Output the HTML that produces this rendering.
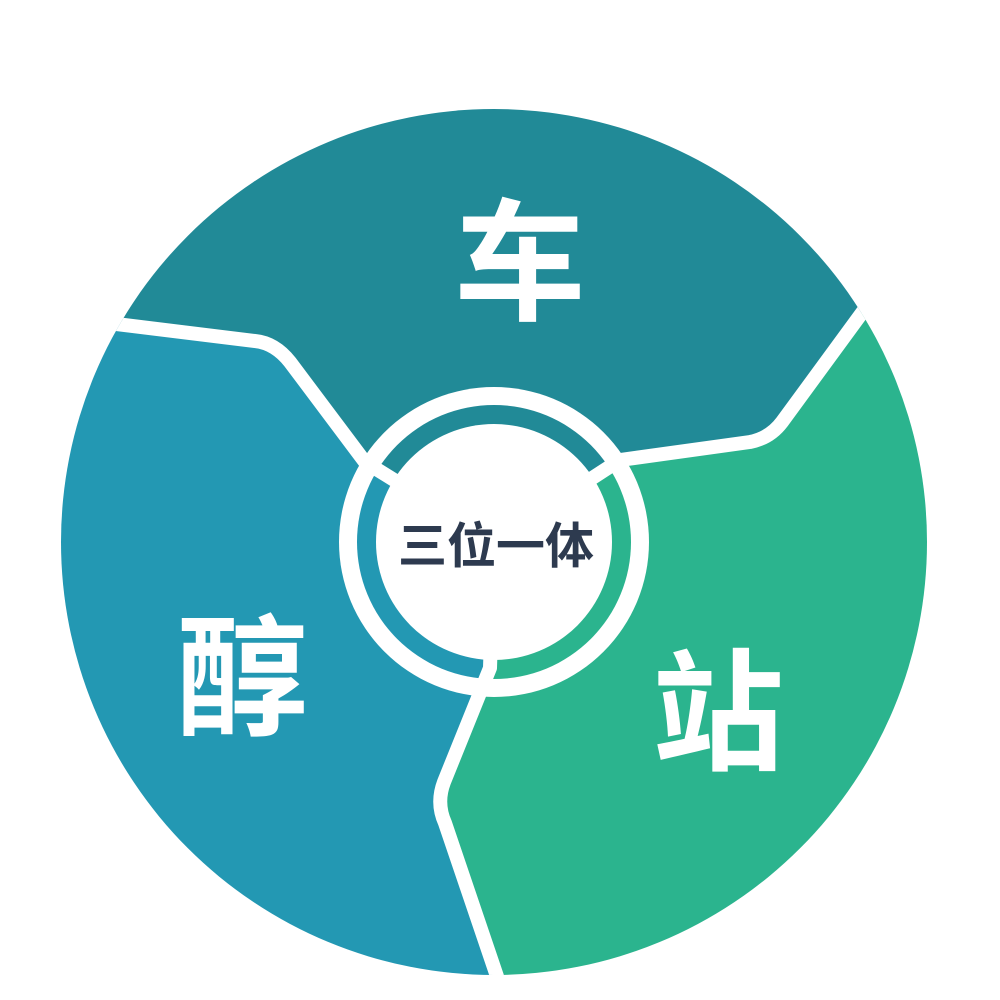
<!DOCTYPE html>
<html><head><meta charset="utf-8"><style>
html,body{margin:0;padding:0;background:#fff;}
svg{display:block}
text{font-family:"Liberation Sans","Noto Sans CJK SC",sans-serif;font-weight:bold;}
</style></head><body>
<svg width="1000" height="1000" viewBox="0 0 1000 1000" xmlns="http://www.w3.org/2000/svg">
<defs>
<clipPath id="big"><circle cx="494" cy="542" r="433"/></clipPath>
<clipPath id="ring"><circle cx="494" cy="542" r="137"/></clipPath>
<g id="regions">
<path d="M494,542 L365,462 L275,345 L100,322 L0,322 L0,0 L1000,0 L1000,295 L875,295 L765,440 L620,460 Z" fill="#218a97"/>
<path d="M494,542 L620,460 L765,440 L875,295 L1000,295 L1000,1000 L505,1000 L440,805 L490,668 Z" fill="#2bb48e"/>
<path d="M494,542 L490,668 L440,805 L505,1000 L0,1000 L0,322 L100,322 L275,345 L365,462 Z" fill="#2398b3"/>
</g>
</defs>
<g clip-path="url(#big)"><use href="#regions"/></g>
<circle cx="494" cy="542" r="155" fill="#fff"/>
<g clip-path="url(#ring)"><use href="#regions"/></g>
<g fill="none" stroke="#fff" stroke-width="14" stroke-linejoin="round" stroke-linecap="butt" clip-path="url(#big)">
<path d="M494,542 L365,462 L290,362 Q275,343 255,341 L100,322"/>
<path d="M494,542 L620,460 L750,442 Q770,438 782,422 L875,295"/>
<path d="M494,542 L490,668 L444,782 Q436,803 445,823 L505,1000"/>
</g>
<circle cx="494" cy="542" r="118" fill="#fff"/>
<text x="520" y="310" font-size="132" fill="#fff" text-anchor="middle">车</text>
<text x="242" y="725" font-size="132" fill="#fff" text-anchor="middle">醇</text>
<text x="718" y="760" font-size="132" fill="#fff" text-anchor="middle">站</text>
<text x="496" y="563" font-size="49" fill="#2d3a4f" text-anchor="middle">三位一体</text>
</svg>
</body></html>
